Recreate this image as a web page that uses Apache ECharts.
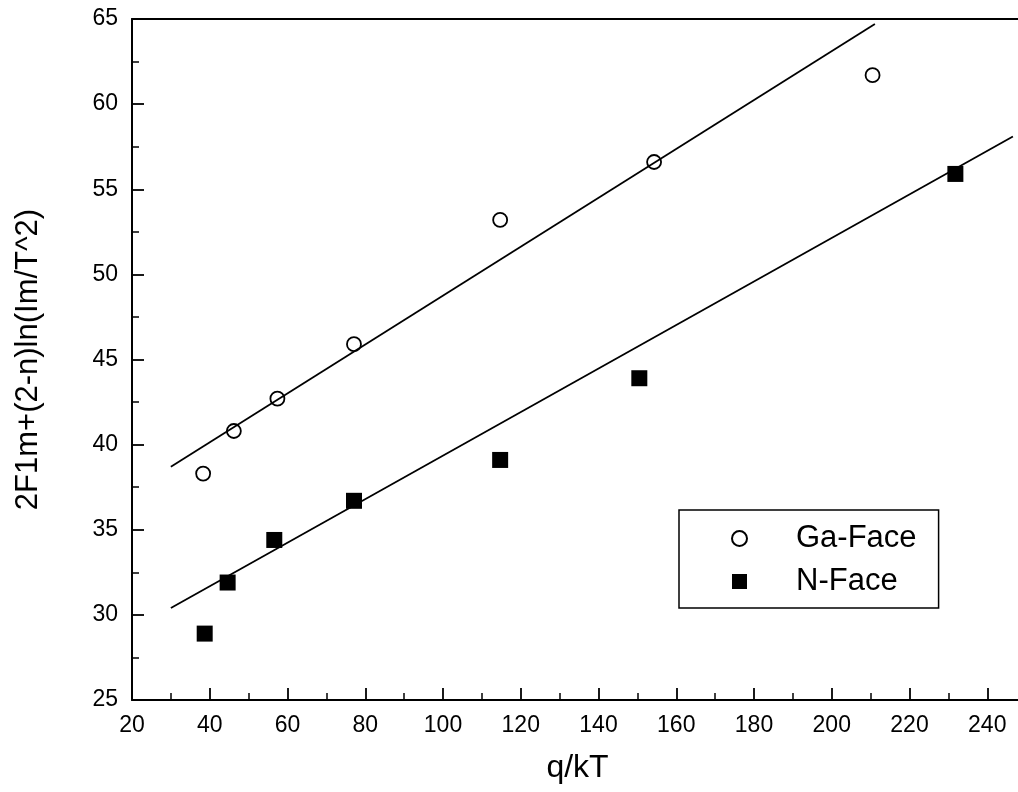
<!DOCTYPE html>
<html>
<head>
<meta charset="utf-8">
<script src="https://cdn.jsdelivr.net/npm/echarts@6/dist/echarts.min.js"></script>
<style>
  html, body { margin: 0; padding: 0; background: #fff; overflow: hidden; }
  /* the plot runs on past the right edge of the picture, so the chart is wider than the window */
  #main { width: 1065px; height: 792px; }
</style>
</head>
<body>
<div id="main"></div>
<script>
var gaX = [38.3, 46.2, 57.4, 77.1, 114.7, 154.3, 210.5];
var gaY = [38.3, 40.8, 42.7, 45.9, 53.2, 56.6, 61.7];
var nX = [38.7, 44.6, 56.6, 77.1, 114.7, 150.5, 231.8];
var nY = [28.9, 31.9, 34.4, 36.7, 39.1, 43.9, 55.9];

// linear fit lines, end points
var gaFitX = [30, 211.1];
var gaFitY = [38.7, 64.7];
var nFitX = [30, 246.6];
var nFitY = [30.4, 58.1];

var seriesNames = ['Ga-Face', 'N-Face'];

function pairs(xs, ys) {
    var out = [];
    for (var i = 0; i < xs.length; i++) {
        out.push([xs[i], ys[i]]);
    }
    return out;
}

var font = 'Liberation Sans, Arial, sans-serif';
var chart = echarts.init(document.getElementById('main'));

var option = {
    backgroundColor: '#fff',
    animation: false,
    textStyle: {fontFamily: font, color: '#000'},
    grid: {left: 132, top: 19, bottom: 92, right: 0, containLabel: false},
    legend: {
        data: seriesNames,
        orient: 'vertical',
        left: 679,
        top: 510,
        borderColor: '#000',
        borderWidth: 1.5,
        borderRadius: 0,
        padding: [13, 22, 11, 52],
        itemGap: 12,
        itemWidth: 15,
        itemHeight: 15,
        textStyle: {fontSize: 31, color: '#000', fontFamily: font, padding: [0, 0, 0, 44]}
    },
    xAxis: [
        {
            type: 'value',
            position: 'bottom',
            min: 20,
            max: 260,
            interval: 20,
            name: 'q/kT',
            nameLocation: 'middle',
            nameGap: 52,
            nameTextStyle: {fontSize: 32, color: '#000', fontFamily: font, padding: [0, 42, 0, 0]},
            axisLine: {lineStyle: {color: '#000', width: 2}},
            axisTick: {inside: true, length: 12, lineStyle: {color: '#000', width: 1.8}},
            minorTick: {show: true, splitNumber: 2, length: 7, lineStyle: {color: '#000', width: 1.5}},
            axisLabel: {fontSize: 23, color: '#000', margin: 14, showMaxLabel: false},
            splitLine: {show: false}
        },
        {
            type: 'value',
            position: 'top',
            min: 20,
            max: 260,
            axisLine: {show: true, lineStyle: {color: '#000', width: 2}},
            axisTick: {show: false},
            axisLabel: {show: false},
            splitLine: {show: false}
        }
    ],
    yAxis: {
        type: 'value',
        min: 25,
        max: 65,
        interval: 5,
        name: '2F1m+(2-n)ln(Im/T^2)',
        nameLocation: 'middle',
        nameGap: 88,
        nameTextStyle: {fontSize: 31, color: '#000', fontFamily: font},
        axisLine: {show: true, lineStyle: {color: '#000', width: 2}},
        axisTick: {inside: true, length: 12, lineStyle: {color: '#000', width: 1.8}},
        minorTick: {show: true, splitNumber: 2, length: 7, lineStyle: {color: '#000', width: 1.5}},
        axisLabel: {fontSize: 23, color: '#000', margin: 14},
        splitLine: {show: false}
    },
    series: [
        {
            name: 'Ga fit',
            type: 'line',
            data: pairs(gaFitX, gaFitY),
            symbol: 'none',
            lineStyle: {color: '#000', width: 1.8},
            silent: true
        },
        {
            name: 'N fit',
            type: 'line',
            data: pairs(nFitX, nFitY),
            symbol: 'none',
            lineStyle: {color: '#000', width: 1.8},
            silent: true
        },
        {
            name: seriesNames[0],
            type: 'scatter',
            data: pairs(gaX, gaY),
            symbol: 'circle',
            symbolSize: 14,
            itemStyle: {color: '#fff', borderColor: '#000', borderWidth: 1.8, opacity: 1}
        },
        {
            name: seriesNames[1],
            type: 'scatter',
            data: pairs(nX, nY),
            symbol: 'rect',
            symbolSize: 16,
            itemStyle: {color: '#000', opacity: 1}
        }
    ]
};

chart.setOption(option);
</script>
</body>
</html>
